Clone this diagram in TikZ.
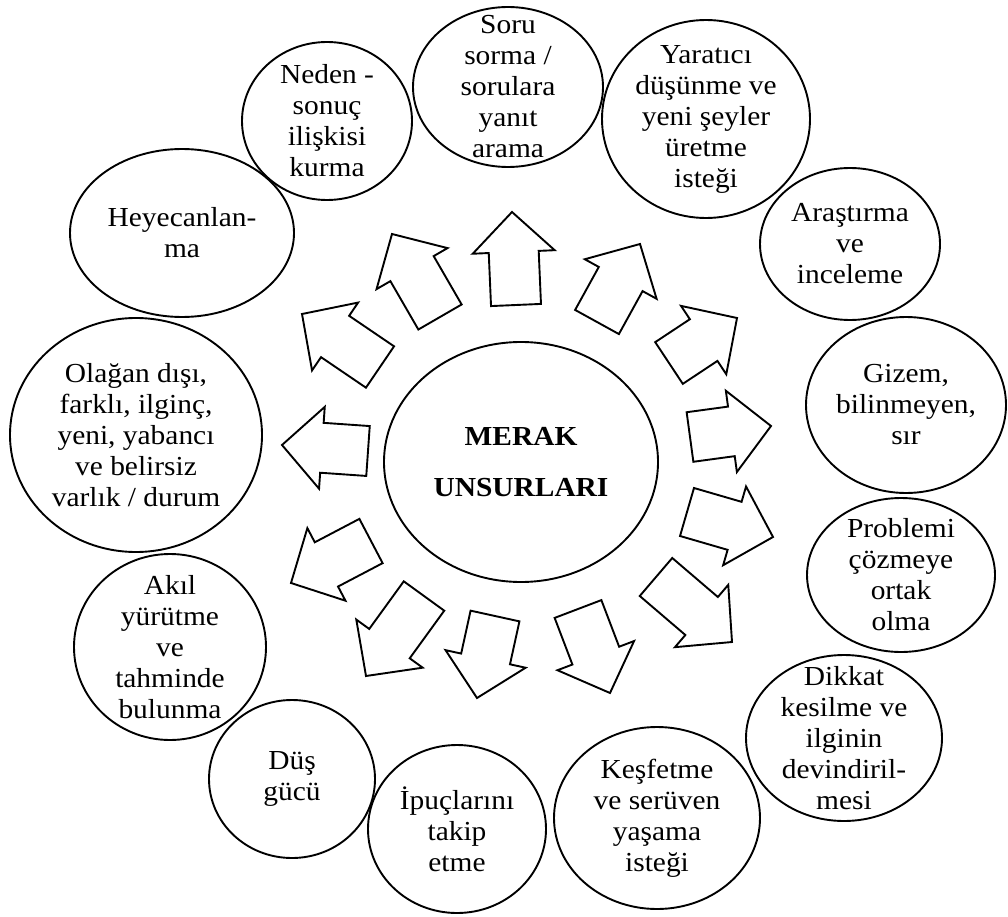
\documentclass[tikz,border=0pt]{standalone}
\usepackage{fontspec}
\setmainfont{Liberation Serif}
\usetikzlibrary{calc,shapes.geometric}
\tikzset{
  bubble/.style={draw, ellipse, line width=1.9pt, inner sep=0pt},
  lbl/.style={align=center, font=\fontsize{27.5}{31}\selectfont, inner sep=0pt, xscale=1.07, transform shape},
  blk/.style={draw, line width=1.9pt, line join=miter},
}
\newcommand\blockarrow[3]{%
  \coordinate (#1b) at (#2);
  \coordinate (#1t) at (#3);
  \coordinate (#1h) at ($(#1t)!40pt!(#1b)$);
  \draw[blk] ($(#1b)!25pt!90:(#1t)$) -- ($(#1h)!25pt!90:(#1t)$) -- ($(#1h)!41pt!90:(#1t)$) -- (#1t)
     -- ($(#1h)!41pt!-90:(#1t)$) -- ($(#1h)!25pt!-90:(#1t)$) -- ($(#1b)!25pt!-90:(#1t)$) -- cycle;
}
\newcommand\bub[6]{% name, x, y, rx, ry, text
  \node[bubble, minimum width=#4*2pt, minimum height=#5*2pt] (#1) at (#2,#3) {};
  \node[lbl] (#1t) at (#1.center) {#6};
}
\begin{document}
\begin{tikzpicture}[x=1pt,y=-1pt]
\useasboundingbox (0,0) rectangle (1008,917);
% centre
\node[bubble, minimum width=274pt, minimum height=240pt] (c) at (521,462) {};
\node[lbl, font=\fontsize{27.5}{31}\selectfont\bfseries] (ct) at (c.center) {MERAK\\[20pt]UNSURLARI};
% bubbles
\bub{soru}{508}{87}{95}{80}{Soru\\sorma /\\sorulara\\yanıt\\arama}
\bub{yar}{706}{119}{104}{99}{Yaratıcı\\düşünme ve\\yeni şeyler\\üretme\\isteği}
\bub{aras}{850}{244}{90}{76}{Araştırma\\ve\\inceleme}
\bub{gizem}{906}{405}{100}{88}{Gizem,\\bilinmeyen,\\sır}
\bub{prob}{901}{575}{94}{77}{Problemi\\çözmeye\\ortak\\olma}
\bub{dikkat}{844}{738}{98}{83}{Dikkat\\kesilme ve\\ilginin\\devindiril-\\mesi}
\bub{kesf}{657}{818}{103}{91}{Keşfetme\\ve serüven\\yaşama\\isteği}
\bub{ipuc}{457}{829}{89}{84}{İpuçlarını\\takip\\etme}
\bub{dus}{292}{779}{83}{79}{Düş\\gücü}
\bub{akil}{170}{647}{96}{93}{Akıl\\yürütme\\ve\\tahminde\\bulunma}
\bub{olagan}{136}{435}{126}{117}{Olağan dışı,\\farklı, ilginç,\\yeni, yabancı\\ve belirsiz\\varlık / durum}
\bub{heyecan}{182}{233}{112}{84}{Heyecanlan-\\ma}
\bub{neden}{327}{121}{85}{79}{Neden -\\sonuç\\ilişkisi\\kurma}
% arrows
\blockarrow{a1}{516,305}{512,212}
\blockarrow{a2}{597,322}{640,244}
\blockarrow{a3}{669,363}{737,318}
\blockarrow{a4}{690,437}{771,426}
\blockarrow{a5}{687,512}{773,537}
\blockarrow{a6}{656,577}{732,642}
\blockarrow{a7}{578,609}{610,693}
\blockarrow{a8}{495,616}{477,698}
\blockarrow{a9}{424,596}{366,676}
\blockarrow{a10}{371,541}{291,583}
\blockarrow{a11}{368,451}{282,445}
\blockarrow{a12}{380,367}{302,314}
\blockarrow{a13}{440,317}{392,234}
\end{tikzpicture}
\end{document}
